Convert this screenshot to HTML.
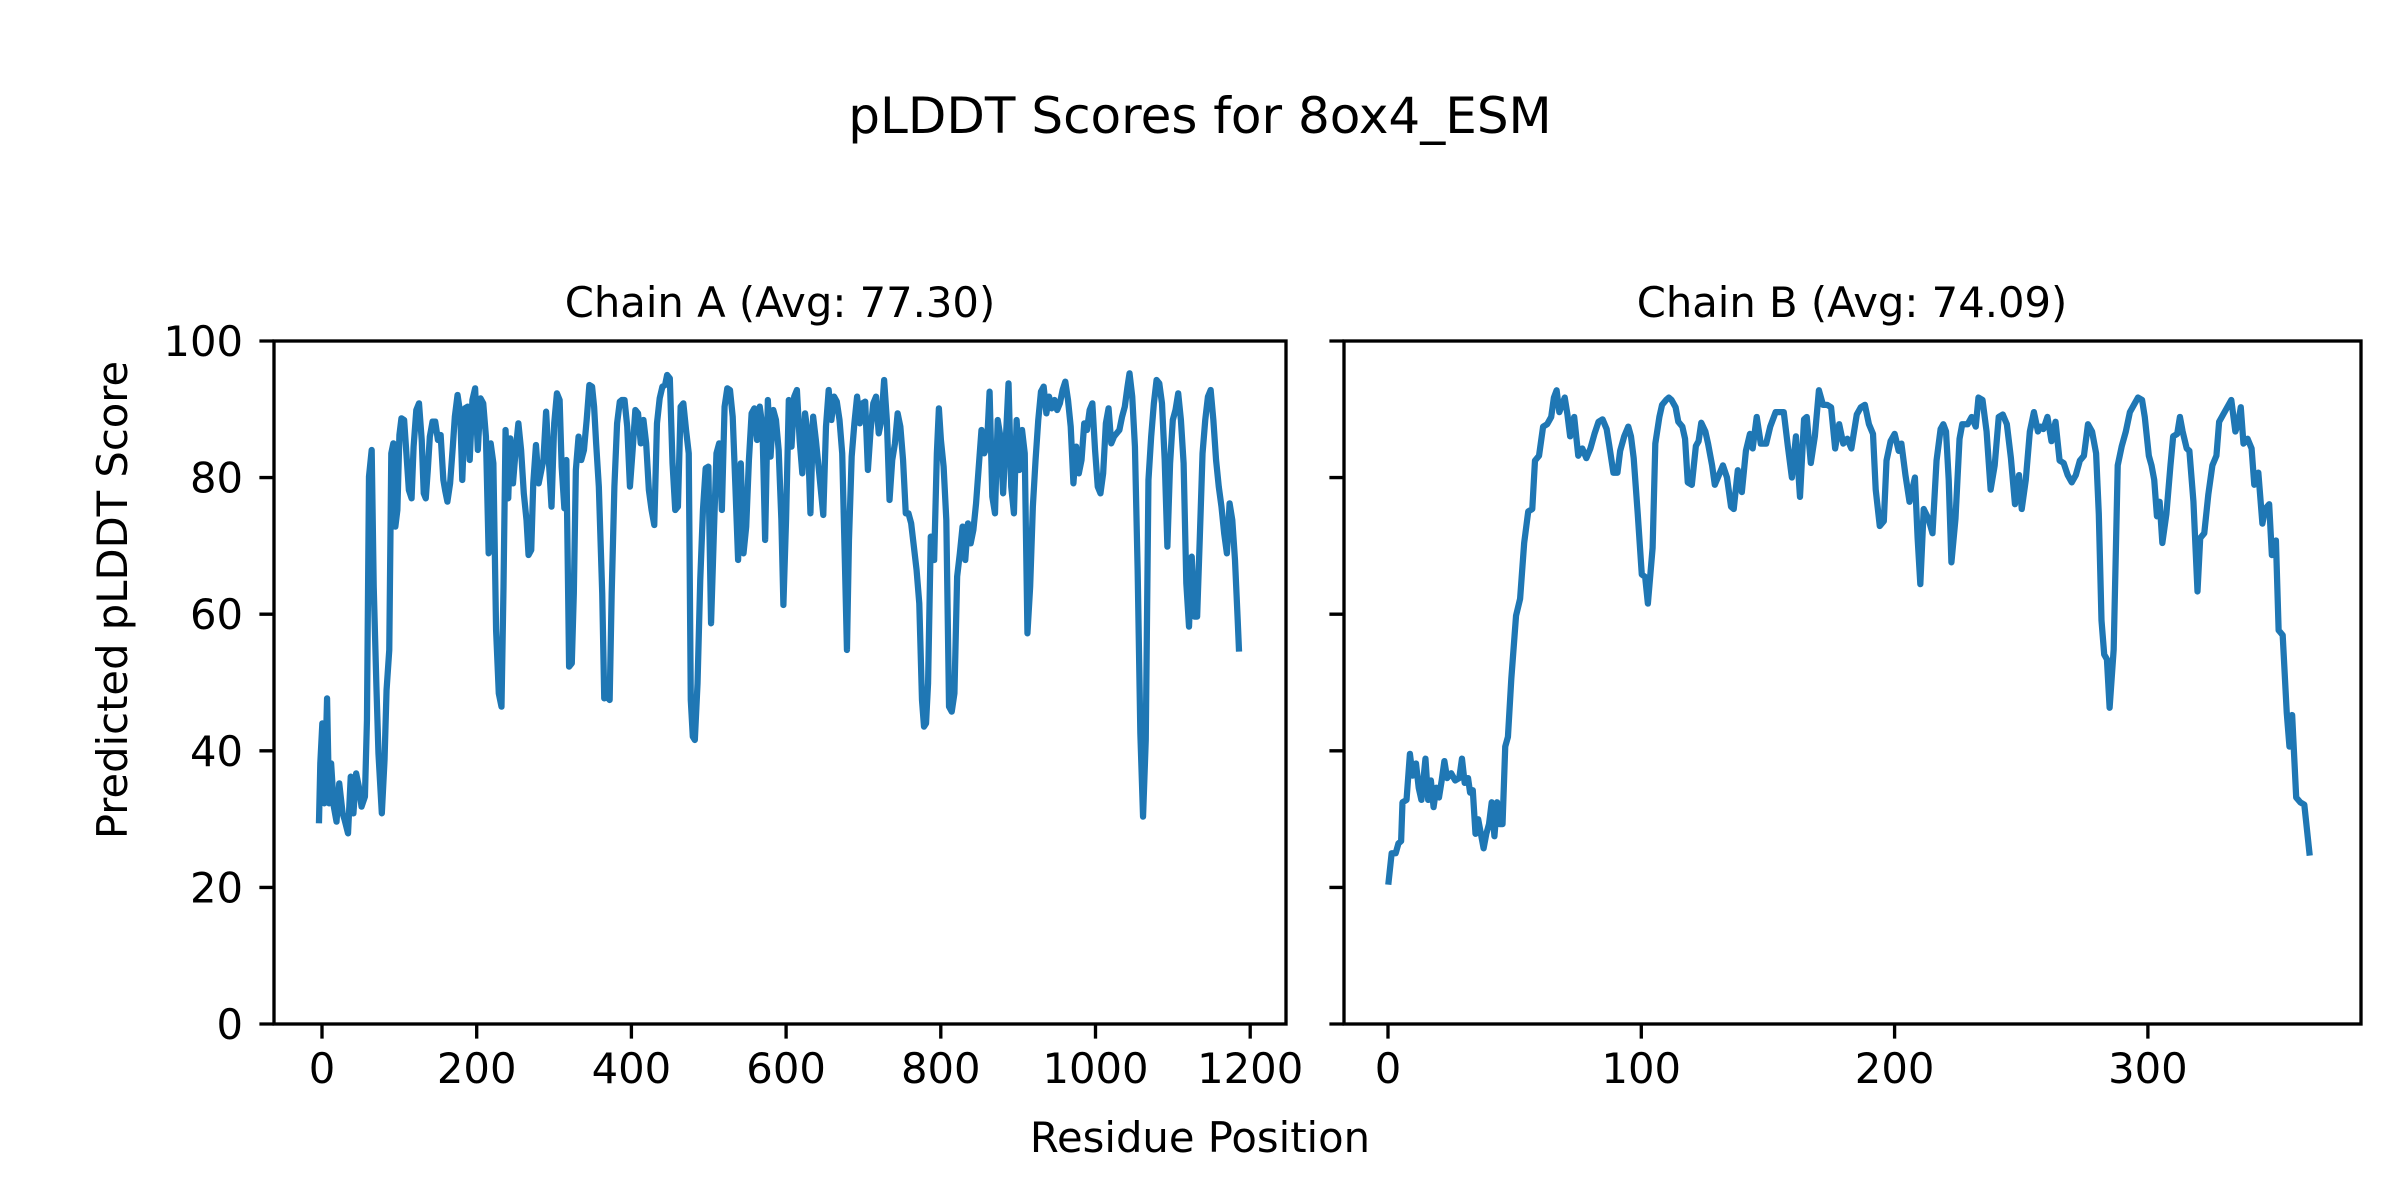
<!DOCTYPE html>
<html><head><meta charset="utf-8"><style>
html,body{margin:0;padding:0;background:#fff;}
svg{display:block;}
text{font-family:"DejaVu Sans","Liberation Sans",sans-serif;fill:#000;}
</style></head><body>
<svg width="2400" height="1200" viewBox="0 0 2400 1200" xmlns="http://www.w3.org/2000/svg">
<rect width="2400" height="1200" fill="#fff"/>
<text x="1200" y="133" font-size="50" text-anchor="middle">pLDDT Scores for 8ox4_ESM</text>
<text x="780" y="317" font-size="41.7" text-anchor="middle">Chain A (Avg: 77.30)</text>
<text x="1852" y="317" font-size="41.7" text-anchor="middle">Chain B (Avg: 74.09)</text>
<text x="1200" y="1152" font-size="41.7" text-anchor="middle">Residue Position</text>
<text transform="translate(127,600) rotate(-90)" font-size="41.7" text-anchor="middle">Predicted pLDDT Score</text>

<!-- series A -->
<g transform="translate(250,320) scale(0.67604,0.33333)">
<polyline fill="none" stroke="#1f77b4" stroke-width="6.25" vector-effect="non-scaling-stroke" stroke-linejoin="round" points="102,1510 104,1330 107,1210 110,1450 114,1135 117,1450 120,1330 124,1460 128,1505 132,1390 137,1480 140,1500 145,1540 149,1370 153,1480 157,1360 161,1400 165,1460 170,1430 173,1200 176,470 180,390 183,800 187,1100 190,1300 195,1480 199,1320 202,1110 206,990 209,400 212,370 215,620 218,570 221,345 224,295 228,300 232,420 235,510 239,535 242,380 246,270 250,250 254,360 257,520 260,535 263,450 266,350 270,305 274,305 278,360 282,345 286,480 289,515 292,545 296,490 300,380 303,290 307,225 311,280 314,480 318,265 322,260 325,420 329,240 333,205 337,390 341,235 345,250 349,350 353,700 356,370 360,430 364,930 368,1120 372,1160 375,800 378,330 382,535 385,355 389,490 393,390 397,310 401,390 405,520 409,600 412,705 416,690 419,490 423,375 427,490 430,460 434,420 438,275 442,420 446,560 450,310 454,220 458,240 461,440 465,565 468,420 472,1040 476,1030 479,820 482,450 486,350 490,420 494,390 498,300 502,195 506,200 509,260 512,370 516,500 521,820 524,1135 528,1130 532,1140 535,820 539,500 543,310 547,245 550,240 554,240 558,320 562,500 566,390 570,270 574,280 578,370 582,300 586,370 590,510 594,570 598,615 602,310 606,235 610,200 614,195 617,165 621,175 625,430 629,570 633,560 637,260 641,250 645,330 649,400 652,1140 655,1250 658,1260 662,1090 666,780 670,570 674,445 678,440 682,910 686,650 690,400 694,370 698,570 702,260 706,205 710,210 714,290 718,500 722,720 726,430 730,700 734,620 738,420 742,280 746,265 750,360 754,260 758,320 762,660 766,240 770,410 774,270 778,300 782,390 786,600 789,855 793,595 797,240 801,380 805,230 809,210 813,360 817,460 821,280 825,340 829,580 833,290 837,360 842,460 848,585 852,320 856,210 860,300 864,230 868,245 872,300 876,400 880,730 883,990 886,660 890,410 894,310 898,230 902,310 906,250 910,245 914,450 918,330 922,250 926,230 930,340 934,300 938,180 942,300 946,540 950,420 954,370 958,280 962,320 966,420 970,580 974,580 978,610 982,680 986,750 990,850 994,1140 997,1220 1000,1210 1003,1090 1007,650 1012,720 1016,400 1019,265 1022,360 1026,440 1030,600 1034,1160 1038,1175 1042,1120 1046,770 1050,700 1054,620 1058,720 1062,610 1066,670 1070,630 1074,550 1078,440 1082,330 1086,400 1090,380 1094,215 1098,530 1102,580 1106,300 1110,350 1114,520 1118,360 1122,190 1126,500 1130,580 1134,300 1138,450 1142,330 1146,400 1150,940 1154,800 1158,560 1162,420 1166,300 1170,215 1174,200 1178,280 1182,230 1186,265 1190,240 1194,270 1198,250 1202,210 1206,185 1210,240 1214,320 1218,490 1222,380 1226,460 1230,420 1234,310 1238,330 1242,270 1246,250 1250,390 1254,500 1258,520 1262,460 1266,310 1270,265 1274,370 1278,350 1282,340 1286,330 1290,290 1294,260 1298,200 1301,160 1305,230 1309,380 1313,750 1317,1240 1321,1490 1325,1260 1329,480 1333,350 1337,250 1341,180 1345,190 1349,250 1353,420 1357,680 1361,430 1365,300 1369,270 1373,220 1377,300 1381,430 1385,790 1389,920 1393,710 1397,890 1401,890 1405,650 1409,400 1413,300 1417,230 1421,210 1425,300 1429,420 1433,500 1437,560 1441,640 1445,700 1449,550 1453,600 1457,720 1461,900 1463,995"/>
</g>

<!-- series B -->
<g transform="translate(1320,320) scale(0.67604,0.48473)">
<polyline fill="none" stroke="#1f77b4" stroke-width="6.25" vector-effect="non-scaling-stroke" stroke-linejoin="round" points="101,1165 106,1100 112,1100 116,1080 120,1075 122,995 128,990 133,895 137,940 142,915 146,965 150,990 156,905 160,990 164,950 168,1005 172,965 176,985 180,950 184,910 188,945 194,935 200,950 206,945 210,905 214,955 219,945 222,975 226,970 230,1060 234,1030 238,1060 242,1090 246,1060 250,1040 254,995 258,1065 262,995 266,1040 270,1040 274,880 278,860 283,740 290,610 296,575 302,460 308,395 314,390 318,290 324,280 330,220 336,215 342,200 346,160 350,145 354,190 358,175 362,160 366,195 370,240 376,200 382,280 388,265 394,285 400,265 406,235 412,210 418,205 424,225 428,260 434,315 440,315 444,270 450,240 456,220 460,240 464,285 470,400 476,525 481,530 485,585 492,470 496,255 502,200 506,175 512,165 516,160 520,165 526,180 530,210 536,220 540,245 544,335 550,340 556,260 560,250 564,212 570,230 574,255 580,300 584,340 590,320 596,300 602,325 608,385 612,390 618,310 624,355 630,270 636,235 640,265 646,200 652,255 660,255 666,220 674,190 680,190 686,190 692,260 698,325 704,240 710,365 716,205 720,200 726,295 732,240 738,145 744,175 750,175 756,180 762,265 768,215 774,255 780,245 786,265 794,195 800,180 806,175 812,215 818,235 822,350 828,425 834,415 838,290 844,250 850,235 856,270 860,255 866,320 872,375 880,325 884,450 888,545 893,390 900,410 906,440 912,290 918,225 922,215 926,230 930,330 934,500 940,410 946,245 950,215 958,215 964,200 970,220 974,160 980,165 986,230 992,350 998,300 1004,200 1010,195 1016,215 1022,285 1028,380 1034,320 1038,390 1044,330 1050,230 1056,190 1062,230 1066,220 1070,225 1076,200 1082,250 1088,210 1094,290 1100,295 1106,320 1112,335 1118,320 1124,290 1130,280 1136,215 1142,230 1148,275 1152,400 1156,620 1160,690 1164,700 1168,800 1174,680 1180,300 1186,260 1192,230 1198,190 1204,175 1210,160 1216,165 1220,200 1226,280 1230,300 1234,330 1238,405 1242,375 1246,460 1252,400 1258,300 1262,240 1268,235 1272,200 1276,230 1282,265 1286,270 1292,375 1298,560 1302,450 1308,440 1314,360 1320,300 1326,280 1330,210 1336,195 1342,180 1348,165 1354,230 1358,215 1362,180 1366,255 1372,245 1378,265 1382,340 1388,315 1394,420 1398,390 1404,380 1408,485 1414,455 1418,640 1424,650 1430,810 1434,880 1438,815 1444,985 1450,995 1456,1000 1464,1105"/>
</g>

<!-- axes frames -->
<g fill="none" stroke="#000" stroke-width="3.33" stroke-linecap="square">
<rect x="274" y="341" width="1012" height="683"/>
<rect x="1344" y="341" width="1017" height="683"/>
</g>
<!-- ticks -->
<g stroke="#000" stroke-width="3.33">
<path d="M274 1024h-14.6M274 887.4h-14.6M274 750.8h-14.6M274 614.2h-14.6M274 477.6h-14.6M274 341h-14.6"/>
<path d="M1344 1024h-14.6M1344 887.4h-14.6M1344 750.8h-14.6M1344 614.2h-14.6M1344 477.6h-14.6M1344 341h-14.6"/>
<path d="M322 1024v14.6M476.7 1024v14.6M631.4 1024v14.6M786.1 1024v14.6M940.8 1024v14.6M1095.5 1024v14.6M1250.2 1024v14.6"/>
<path d="M1388 1024v14.6M1641.3 1024v14.6M1894.6 1024v14.6M2147.9 1024v14.6"/>
</g>
<g font-size="41.7" text-anchor="end">
<text x="243" y="1039">0</text>
<text x="243" y="902.4">20</text>
<text x="243" y="765.8">40</text>
<text x="243" y="629.2">60</text>
<text x="243" y="492.6">80</text>
<text x="243" y="356">100</text>
</g>
<g font-size="41.7" text-anchor="middle">
<text x="322" y="1083">0</text>
<text x="476.7" y="1083">200</text>
<text x="631.4" y="1083">400</text>
<text x="786.1" y="1083">600</text>
<text x="940.8" y="1083">800</text>
<text x="1095.5" y="1083">1000</text>
<text x="1250.2" y="1083">1200</text>
<text x="1388" y="1083">0</text>
<text x="1641.3" y="1083">100</text>
<text x="1894.6" y="1083">200</text>
<text x="2147.9" y="1083">300</text>
</g>
</svg>
</body></html>
